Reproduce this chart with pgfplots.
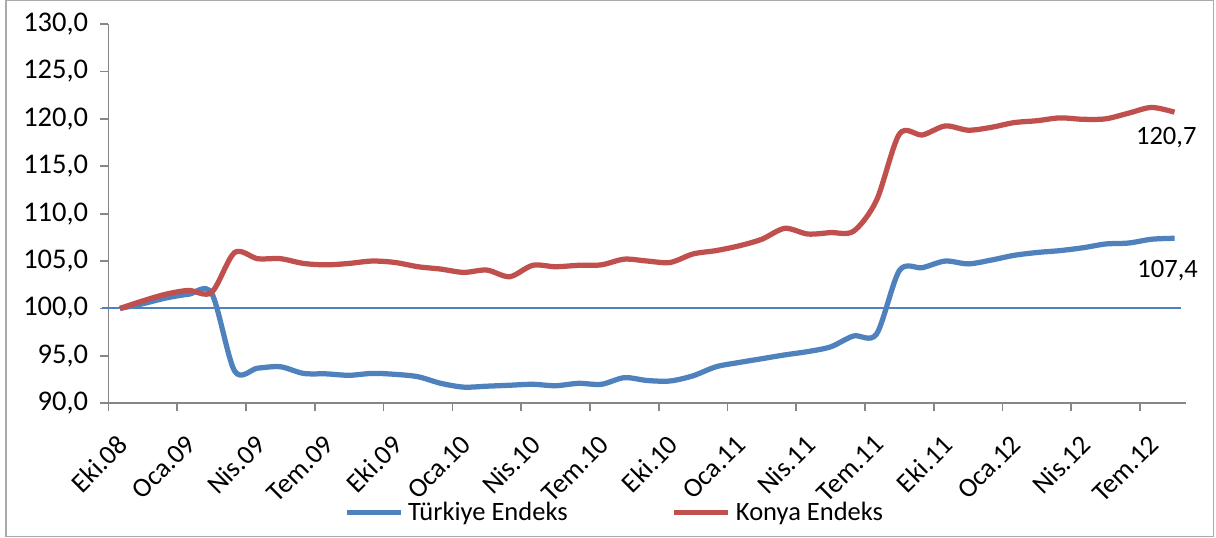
\documentclass[border=0pt]{standalone}
\usepackage{pgfplots}
\pgfplotsset{compat=1.18}
\usepackage{fontspec}
\setmainfont{Carlito}

\definecolor{trblue}{RGB}{79,129,189}
\definecolor{kyred}{RGB}{192,80,77}
\definecolor{axisgray}{RGB}{134,134,134}
\definecolor{framegray}{RGB}{170,170,170}

% monthly index, Eki.08 = 0 ... Agu.12 = 46
\pgfplotstableread{
i turkiye konya
0 100.0 100.0
1 100.5 100.8
2 101.1 101.5
3 101.5 101.9
4 101.6 101.7
5 93.4 105.9
6 93.7 105.25
7 93.85 105.25
8 93.15 104.75
9 93.1 104.6
10 92.95 104.75
11 93.15 105.0
12 93.05 104.85
13 92.8 104.4
14 92.1 104.15
15 91.7 103.8
16 91.8 104.05
17 91.9 103.35
18 92.0 104.55
19 91.85 104.4
20 92.1 104.55
21 92.0 104.6
22 92.7 105.2
23 92.4 105.0
24 92.35 104.85
25 92.9 105.75
26 93.85 106.1
27 94.3 106.6
28 94.7 107.3
29 95.1 108.45
30 95.45 107.85
31 95.95 108.0
32 97.1 108.15
33 97.3 111.4
34 104.0 118.4
35 104.3 118.3
36 105.0 119.25
37 104.7 118.8
38 105.1 119.1
39 105.6 119.6
40 105.9 119.8
41 106.1 120.1
42 106.4 119.95
43 106.8 120.0
44 106.9 120.6
45 107.3 121.2
46 107.4 120.7
}\endeksler

\begin{document}
\begin{tikzpicture}
\useasboundingbox (-43.4pt,-53.6pt) rectangle (443.0pt,161.3pt);
\draw[framegray, line width=0.5pt] (-41.0pt,-53.3pt) rectangle (441.9pt,161.1pt);
\begin{axis}[
    scale only axis,
    width=431pt, height=151.7pt,
    xmin=-0.5, xmax=46.5,
    ymin=90, ymax=130,
    clip=false,
    axis lines=left,
    axis line style={-, draw=axisgray, line width=0.7pt},
    tick style={draw=axisgray, line width=0.7pt},
    major tick length=3.2pt,
    tick align=outside,
    xtick={-0.5,2.5,...,44.5},
    xticklabels={Eki.08,Oca.09,Nis.09,Tem.09,Eki.09,Oca.10,Nis.10,Tem.10,
                 Eki.10,Oca.11,Nis.11,Tem.11,Eki.11,Oca.12,Nis.12,Tem.12},
    xticklabel style={font=\fontsize{10.9}{13}\selectfont,
                      xshift=3pt, yshift=-4pt, rotate=45, anchor=north east},
    ytick={90,95,...,130},
    yticklabel style={font=\fontsize{11.4}{13}\selectfont, xshift=-1.4pt,
                      /pgf/number format/fixed,
                      /pgf/number format/fixed zerofill,
                      /pgf/number format/precision=1,
                      /pgf/number format/use comma,
                      /pgf/number format/assume math mode=true},
    legend style={at={(0.471,-0.289)}, anchor=center, draw=none, fill=none,
                  legend columns=2,
                  font=\fontsize{10.6}{12}\selectfont,
                  /tikz/every even column/.append style={column sep=39.6pt}},
    legend image code/.code={\draw[#1] (0pt,0pt) -- (21.6pt,0pt);},
]
\addplot[trblue, line width=0.8pt, forget plot] coordinates {(-0.8,100) (46.3,100)};

\addplot[trblue, line width=2.1pt, smooth] table[x=i, y=turkiye] {\endeksler};
\addlegendentry{Türkiye Endeks}

\addplot[kyred, line width=2.1pt, smooth] table[x=i, y=konya] {\endeksler};
\addlegendentry{Konya Endeks}

\node[anchor=base, font=\fontsize{10.6}{12}\selectfont, inner sep=0pt]
    at (axis cs:45.64,117.24) {120,7};
\node[anchor=base, font=\fontsize{10.6}{12}\selectfont, inner sep=0pt]
    at (axis cs:45.70,103.28) {107,4};
\end{axis}
\end{tikzpicture}
\end{document}
